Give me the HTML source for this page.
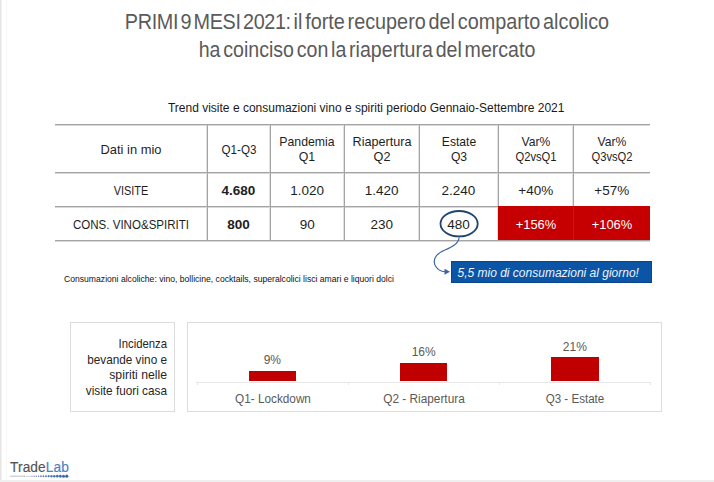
<!DOCTYPE html>
<html><head><meta charset="utf-8"><style>
html,body{margin:0;padding:0;background:#fff;}
body{width:714px;height:482px;position:relative;overflow:hidden;font-family:"Liberation Sans",sans-serif;}
.t{position:absolute;white-space:pre;line-height:normal;}
.r{position:absolute;}
</style></head><body>
<div class="r" style="left:0px;top:0px;width:1px;height:482px;background:#e4e4e4;"></div><div class="r" style="left:1px;top:0px;width:1px;height:482px;background:#f4f4f4;"></div><div class="r" style="left:6px;top:0px;width:1px;height:482px;background:#f6f6f6;"></div><div class="r" style="left:0px;top:480px;width:714px;height:2px;background:#efefef;"></div><div class="r" style="left:55px;top:125px;width:595px;height:1px;background:#d8d8d8;"></div><div class="r" style="left:55px;top:173px;width:595px;height:1px;background:#d8d8d8;"></div><div class="r" style="left:55px;top:207px;width:595px;height:1px;background:#d8d8d8;"></div><div class="r" style="left:55px;top:241px;width:595px;height:1px;background:#d8d8d8;"></div><div class="r" style="left:206px;top:124px;width:1px;height:117px;background:#e0e0e0;"></div><div class="r" style="left:269px;top:124px;width:1px;height:117px;background:#e0e0e0;"></div><div class="r" style="left:343px;top:124px;width:1px;height:117px;background:#e0e0e0;"></div><div class="r" style="left:418px;top:124px;width:1px;height:117px;background:#e0e0e0;"></div><div class="r" style="left:497px;top:124px;width:1px;height:117px;background:#e0e0e0;"></div><div class="r" style="left:572px;top:124px;width:1px;height:117px;background:#e0e0e0;"></div><div class="r" style="left:55px;top:124px;width:595px;height:1px;background:#a4a4a4;"></div><div class="r" style="left:55px;top:172px;width:595px;height:1px;background:#a4a4a4;"></div><div class="r" style="left:55px;top:206px;width:595px;height:1px;background:#a4a4a4;"></div><div class="r" style="left:55px;top:240px;width:595px;height:1px;background:#a4a4a4;"></div><div class="r" style="left:207px;top:124px;width:1px;height:117px;background:#a4a4a4;"></div><div class="r" style="left:270px;top:124px;width:1px;height:117px;background:#a4a4a4;"></div><div class="r" style="left:344px;top:124px;width:1px;height:117px;background:#a4a4a4;"></div><div class="r" style="left:419px;top:124px;width:1px;height:117px;background:#a4a4a4;"></div><div class="r" style="left:498px;top:124px;width:1px;height:117px;background:#a4a4a4;"></div><div class="r" style="left:573px;top:124px;width:1px;height:117px;background:#a4a4a4;"></div><div class="r" style="left:497.5px;top:206px;width:152.7px;height:34px;background:#c60000;"></div><div class="r" style="left:572.6px;top:206px;width:1.2px;height:34px;background:#9c2a2a;"></div><div class="r" style="left:451.4px;top:261.3px;width:200.8px;height:21.3px;background:#0b55a6;border:0.6px solid #0c468a;box-sizing:border-box;"></div><div class="r" style="left:69.5px;top:322.2px;width:105px;height:89.8px;background:#ffffff;border:1px solid #dcdcdc;box-sizing:border-box;"></div><div class="r" style="left:187px;top:322.2px;width:474.5px;height:89.8px;background:#ffffff;border:1px solid #dcdcdc;box-sizing:border-box;"></div><div class="r" style="left:196px;top:381.5px;width:455px;height:1px;background:#e6e6e6;"></div><div class="r" style="left:196.5px;top:381.5px;width:1px;height:3.5px;background:#e6e6e6;"></div><div class="r" style="left:348px;top:381.5px;width:1px;height:3.5px;background:#e6e6e6;"></div><div class="r" style="left:499px;top:381.5px;width:1px;height:3.5px;background:#e6e6e6;"></div><div class="r" style="left:650px;top:381.5px;width:1px;height:3.5px;background:#e6e6e6;"></div><div class="r" style="left:248.6px;top:371.4px;width:47.4px;height:10.1px;background:#c00000;"></div><div class="r" style="left:400.0px;top:363.1px;width:47.4px;height:18.4px;background:#c00000;"></div><div class="r" style="left:551.2px;top:357.1px;width:47.4px;height:24.4px;background:#c00000;"></div>
<svg width="714" height="482" style="position:absolute;left:0;top:0">
<ellipse cx="459.1" cy="223.7" rx="18.6" ry="12.7" fill="none" stroke="#23446e" stroke-width="1.8"/>
<path d="M459.2 237.2 C458.5 244, 452 247, 445 250 C436 253.5, 432 260, 435.5 266 C437.5 269.5, 441 271.5, 445 271.8" fill="none" stroke="#3a64a3" stroke-width="1.15"/>
<path d="M444.5 268.8 L450 271.8 L444.5 274.8 Z" fill="#3a64a3"/>
<line x1="10" y1="476.2" x2="25" y2="476.2" stroke="#a8b0bc" stroke-width="0.8"/>
<circle cx="24.60" cy="476.2" r="0.45" fill="#96a0af"/><circle cx="26.30" cy="476.2" r="0.48" fill="#909cae"/><circle cx="28.10" cy="476.2" r="0.52" fill="#8b99ad"/><circle cx="30.00" cy="476.2" r="0.57" fill="#8696ad"/><circle cx="31.99" cy="476.2" r="0.63" fill="#8093ac"/><circle cx="34.08" cy="476.2" r="0.68" fill="#7b8fac"/><circle cx="36.27" cy="476.2" r="0.75" fill="#768cab"/><circle cx="38.56" cy="476.2" r="0.81" fill="#7089aa"/><circle cx="40.94" cy="476.2" r="0.88" fill="#6b86aa"/><circle cx="43.42" cy="476.2" r="0.95" fill="#6682a9"/><circle cx="46.00" cy="476.2" r="1.03" fill="#617fa9"/><circle cx="48.67" cy="476.2" r="1.10" fill="#5b7ca8"/><circle cx="51.45" cy="476.2" r="1.18" fill="#5679a7"/><circle cx="54.32" cy="476.2" r="1.26" fill="#5175a7"/><circle cx="57.28" cy="476.2" r="1.34" fill="#4b72a6"/><circle cx="60.35" cy="476.2" r="1.43" fill="#466fa6"/><circle cx="63.51" cy="476.2" r="1.51" fill="#416ca5"/><circle cx="66.77" cy="476.2" r="1.60" fill="#3c69a5"/>
</svg>
<div class="t" style="left:66.60px;top:8.79px;width:600px;font-size:22px;color:#5a5a5a;font-weight:normal;font-style:normal;text-align:center;transform:scaleX(0.9);transform-origin:center top;word-spacing:-3px;"><span style="letter-spacing:-0.4px">PRIMI 9 MESI 2021:</span> il forte recupero del comparto alcolico</div><div class="t" style="left:67.20px;top:37.49px;width:600px;font-size:22px;color:#5a5a5a;font-weight:normal;font-style:normal;text-align:center;transform:scaleX(0.89);transform-origin:center top;word-spacing:-3px;">ha coinciso con la riapertura del mercato</div><div class="t" style="left:66.20px;top:101.04px;width:600px;font-size:12px;color:#1a1a1a;font-weight:normal;font-style:normal;text-align:center;transform:scaleX(1.0);transform-origin:center top;">Trend visite e consumazioni vino e spiriti periodo Gennaio-Settembre 2021</div><div class="t" style="left:-169.00px;top:141.98px;width:600px;font-size:13.5px;color:#1e1e1e;font-weight:normal;font-style:normal;text-align:center;transform:scaleX(0.955);transform-origin:center top;">Dati in mio</div><div class="t" style="left:-61.50px;top:141.98px;width:600px;font-size:13.5px;color:#1e1e1e;font-weight:normal;font-style:normal;text-align:center;transform:scaleX(0.86);transform-origin:center top;">Q1-Q3</div><div class="t" style="left:7.25px;top:133.58px;width:600px;font-size:13.5px;color:#1e1e1e;font-weight:normal;font-style:normal;text-align:center;transform:scaleX(0.91);transform-origin:center top;">Pandemia</div><div class="t" style="left:7.25px;top:149.08px;width:600px;font-size:13.5px;color:#1e1e1e;font-weight:normal;font-style:normal;text-align:center;transform:scaleX(0.91);transform-origin:center top;">Q1</div><div class="t" style="left:81.75px;top:133.58px;width:600px;font-size:13.5px;color:#1e1e1e;font-weight:normal;font-style:normal;text-align:center;transform:scaleX(0.935);transform-origin:center top;">Riapertura</div><div class="t" style="left:81.75px;top:149.08px;width:600px;font-size:13.5px;color:#1e1e1e;font-weight:normal;font-style:normal;text-align:center;transform:scaleX(0.935);transform-origin:center top;">Q2</div><div class="t" style="left:158.50px;top:133.58px;width:600px;font-size:13.5px;color:#1e1e1e;font-weight:normal;font-style:normal;text-align:center;transform:scaleX(0.9);transform-origin:center top;">Estate</div><div class="t" style="left:158.50px;top:149.08px;width:600px;font-size:13.5px;color:#1e1e1e;font-weight:normal;font-style:normal;text-align:center;transform:scaleX(0.9);transform-origin:center top;">Q3</div><div class="t" style="left:235.75px;top:133.58px;width:600px;font-size:13.5px;color:#1e1e1e;font-weight:normal;font-style:normal;text-align:center;transform:scaleX(0.9);transform-origin:center top;">Var%</div><div class="t" style="left:235.75px;top:149.08px;width:600px;font-size:13.5px;color:#1e1e1e;font-weight:normal;font-style:normal;text-align:center;transform:scaleX(0.83);transform-origin:center top;">Q2vsQ1</div><div class="t" style="left:311.75px;top:133.58px;width:600px;font-size:13.5px;color:#1e1e1e;font-weight:normal;font-style:normal;text-align:center;transform:scaleX(0.9);transform-origin:center top;">Var%</div><div class="t" style="left:311.75px;top:149.08px;width:600px;font-size:13.5px;color:#1e1e1e;font-weight:normal;font-style:normal;text-align:center;transform:scaleX(0.83);transform-origin:center top;">Q3vsQ2</div><div class="t" style="left:-169.00px;top:182.58px;width:600px;font-size:13.5px;color:#1e1e1e;font-weight:normal;font-style:normal;text-align:center;transform:scaleX(0.81);transform-origin:center top;">VISITE</div><div class="t" style="left:-61.50px;top:182.58px;width:600px;font-size:13.5px;color:#1e1e1e;font-weight:bold;font-style:normal;text-align:center;transform:scaleX(1.0);transform-origin:center top;">4.680</div><div class="t" style="left:7.25px;top:182.58px;width:600px;font-size:13.5px;color:#1e1e1e;font-weight:normal;font-style:normal;text-align:center;transform:scaleX(1.0);transform-origin:center top;">1.020</div><div class="t" style="left:81.75px;top:182.58px;width:600px;font-size:13.5px;color:#1e1e1e;font-weight:normal;font-style:normal;text-align:center;transform:scaleX(1.0);transform-origin:center top;">1.420</div><div class="t" style="left:158.50px;top:182.58px;width:600px;font-size:13.5px;color:#1e1e1e;font-weight:normal;font-style:normal;text-align:center;transform:scaleX(1.0);transform-origin:center top;">2.240</div><div class="t" style="left:235.75px;top:182.58px;width:600px;font-size:13.5px;color:#1e1e1e;font-weight:normal;font-style:normal;text-align:center;transform:scaleX(1.0);transform-origin:center top;">+40%</div><div class="t" style="left:311.75px;top:182.58px;width:600px;font-size:13.5px;color:#1e1e1e;font-weight:normal;font-style:normal;text-align:center;transform:scaleX(1.0);transform-origin:center top;">+57%</div><div class="t" style="left:-169.00px;top:216.78px;width:600px;font-size:13.5px;color:#1e1e1e;font-weight:normal;font-style:normal;text-align:center;transform:scaleX(0.855);transform-origin:center top;">CONS. VINO&amp;SPIRITI</div><div class="t" style="left:-61.50px;top:216.78px;width:600px;font-size:13.5px;color:#1e1e1e;font-weight:bold;font-style:normal;text-align:center;transform:scaleX(1.0);transform-origin:center top;">800</div><div class="t" style="left:7.25px;top:216.78px;width:600px;font-size:13.5px;color:#1e1e1e;font-weight:normal;font-style:normal;text-align:center;transform:scaleX(1.0);transform-origin:center top;">90</div><div class="t" style="left:81.75px;top:216.78px;width:600px;font-size:13.5px;color:#1e1e1e;font-weight:normal;font-style:normal;text-align:center;transform:scaleX(1.0);transform-origin:center top;">230</div><div class="t" style="left:158.50px;top:216.78px;width:600px;font-size:13.5px;color:#1e1e1e;font-weight:normal;font-style:normal;text-align:center;transform:scaleX(1.0);transform-origin:center top;">480</div><div class="t" style="left:235.75px;top:216.78px;width:600px;font-size:13.5px;color:#ffffff;font-weight:normal;font-style:normal;text-align:center;transform:scaleX(0.955);transform-origin:center top;">+156%</div><div class="t" style="left:311.75px;top:216.78px;width:600px;font-size:13.5px;color:#ffffff;font-weight:normal;font-style:normal;text-align:center;transform:scaleX(0.955);transform-origin:center top;">+106%</div><div class="t" style="left:64.00px;top:274.25px;width:600px;font-size:9px;color:#111111;font-weight:normal;font-style:normal;text-align:left;transform:scaleX(0.956);transform-origin:left top;">Consumazioni alcoliche: vino, bollicine, cocktails, superalcolici lisci amari e liquori dolci</div><div class="t" style="left:457.50px;top:265.74px;width:600px;font-size:12px;color:#eef3fa;font-weight:normal;font-style:italic;text-align:left;transform:scaleX(1.0);transform-origin:left top;">5,5 mio di consumazioni al giorno!</div><div class="t" style="left:-433.00px;top:335.84px;width:600px;font-size:13px;color:#262626;font-weight:normal;font-style:normal;text-align:right;transform:scaleX(0.87);transform-origin:right top;">Incidenza</div><div class="t" style="left:-433.00px;top:351.54px;width:600px;font-size:13px;color:#262626;font-weight:normal;font-style:normal;text-align:right;transform:scaleX(0.905);transform-origin:right top;">bevande vino e</div><div class="t" style="left:-433.00px;top:367.24px;width:600px;font-size:13px;color:#262626;font-weight:normal;font-style:normal;text-align:right;transform:scaleX(0.94);transform-origin:right top;">spiriti nelle</div><div class="t" style="left:-433.00px;top:382.84px;width:600px;font-size:13px;color:#262626;font-weight:normal;font-style:normal;text-align:right;transform:scaleX(0.906);transform-origin:right top;">visite fuori casa</div><div class="t" style="left:-27.70px;top:353.44px;width:600px;font-size:12px;color:#595959;font-weight:normal;font-style:normal;text-align:center;transform:scaleX(1.0);transform-origin:center top;">9%</div><div class="t" style="left:123.70px;top:344.84px;width:600px;font-size:12px;color:#595959;font-weight:normal;font-style:normal;text-align:center;transform:scaleX(1.0);transform-origin:center top;">16%</div><div class="t" style="left:274.80px;top:339.64px;width:600px;font-size:12px;color:#595959;font-weight:normal;font-style:normal;text-align:center;transform:scaleX(1.0);transform-origin:center top;">21%</div><div class="t" style="left:-27.40px;top:392.44px;width:600px;font-size:12px;color:#595959;font-weight:normal;font-style:normal;text-align:center;transform:scaleX(0.98);transform-origin:center top;">Q1- Lockdown</div><div class="t" style="left:123.60px;top:392.44px;width:600px;font-size:12px;color:#595959;font-weight:normal;font-style:normal;text-align:center;transform:scaleX(0.985);transform-origin:center top;">Q2 - Riapertura</div><div class="t" style="left:274.90px;top:392.44px;width:600px;font-size:12px;color:#595959;font-weight:normal;font-style:normal;text-align:center;transform:scaleX(0.965);transform-origin:center top;">Q3 - Estate</div><div class="t" style="left:9.50px;top:458.73px;width:600px;font-size:14px;color:#4e4e4e;font-weight:normal;font-style:normal;text-align:left;transform:scaleX(0.98);transform-origin:left top;letter-spacing:0.1px;"><span style="color:#535353;-webkit-text-stroke:0.15px #535353">Trade</span><span style="color:#4a80c2;-webkit-text-stroke:0.15px #4a80c2">Lab</span></div>
</body></html>
